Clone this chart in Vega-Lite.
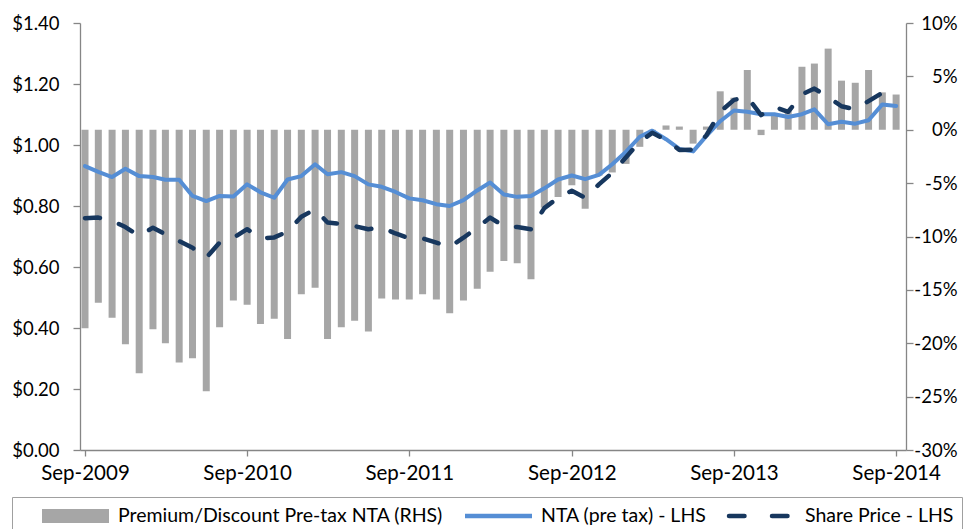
{
  "$schema": "https://vega.github.io/schema/vega-lite/v6.json",
  "width": 826,
  "height": 427,
  "autosize": {"type": "none"},
  "padding": {"left": 80, "top": 23, "right": 67, "bottom": 79},
  "background": "white",
  "config": {
    "view": {"stroke": null},
    "font": "Lato",
    "axis": {"labelFont": "Lato", "labelFontSize": 18.5, "labelColor": "#000000", "domainColor": "#868686", "tickColor": "#868686", "domainWidth": 1.3, "tickWidth": 1.3, "grid": false, "title": null}
  },
  "data": {
    "values": [
      {"date": "2009-09-01", "premium": -0.186, "nta": 0.931, "price": 0.760},
      {"date": "2009-10-01", "premium": -0.162, "nta": 0.912, "price": 0.762},
      {"date": "2009-11-01", "premium": -0.176, "nta": 0.895, "price": 0.751},
      {"date": "2009-12-01", "premium": -0.201, "nta": 0.922, "price": 0.731},
      {"date": "2010-01-01", "premium": -0.228, "nta": 0.898, "price": 0.702},
      {"date": "2010-02-01", "premium": -0.187, "nta": 0.895, "price": 0.729},
      {"date": "2010-03-01", "premium": -0.200, "nta": 0.886, "price": 0.707},
      {"date": "2010-04-01", "premium": -0.218, "nta": 0.886, "price": 0.685},
      {"date": "2010-05-01", "premium": -0.214, "nta": 0.833, "price": 0.663},
      {"date": "2010-06-01", "premium": -0.245, "nta": 0.816, "price": 0.630},
      {"date": "2010-07-01", "premium": -0.185, "nta": 0.833, "price": 0.680},
      {"date": "2010-08-01", "premium": -0.160, "nta": 0.831, "price": 0.696},
      {"date": "2010-09-01", "premium": -0.164, "nta": 0.871, "price": 0.724},
      {"date": "2010-10-01", "premium": -0.182, "nta": 0.845, "price": 0.694},
      {"date": "2010-11-01", "premium": -0.177, "nta": 0.827, "price": 0.697},
      {"date": "2010-12-01", "premium": -0.196, "nta": 0.887, "price": 0.716},
      {"date": "2011-01-01", "premium": -0.154, "nta": 0.898, "price": 0.765},
      {"date": "2011-02-01", "premium": -0.148, "nta": 0.937, "price": 0.789},
      {"date": "2011-03-01", "premium": -0.196, "nta": 0.904, "price": 0.746},
      {"date": "2011-04-01", "premium": -0.185, "nta": 0.911, "price": 0.741},
      {"date": "2011-05-01", "premium": -0.179, "nta": 0.898, "price": 0.734},
      {"date": "2011-06-01", "premium": -0.189, "nta": 0.871, "price": 0.724},
      {"date": "2011-07-01", "premium": -0.158, "nta": 0.863, "price": 0.729},
      {"date": "2011-08-01", "premium": -0.159, "nta": 0.846, "price": 0.710},
      {"date": "2011-09-01", "premium": -0.159, "nta": 0.825, "price": 0.694},
      {"date": "2011-10-01", "premium": -0.154, "nta": 0.819, "price": 0.694},
      {"date": "2011-11-01", "premium": -0.159, "nta": 0.806, "price": 0.680},
      {"date": "2011-12-01", "premium": -0.172, "nta": 0.800, "price": 0.666},
      {"date": "2012-01-01", "premium": -0.160, "nta": 0.819, "price": 0.696},
      {"date": "2012-02-01", "premium": -0.149, "nta": 0.851, "price": 0.729},
      {"date": "2012-03-01", "premium": -0.133, "nta": 0.877, "price": 0.762},
      {"date": "2012-04-01", "premium": -0.123, "nta": 0.838, "price": 0.734},
      {"date": "2012-05-01", "premium": -0.125, "nta": 0.830, "price": 0.731},
      {"date": "2012-06-01", "premium": -0.140, "nta": 0.833, "price": 0.724},
      {"date": "2012-07-01", "premium": -0.073, "nta": 0.858, "price": 0.793},
      {"date": "2012-08-01", "premium": -0.063, "nta": 0.887, "price": 0.827},
      {"date": "2012-09-01", "premium": -0.052, "nta": 0.900, "price": 0.850},
      {"date": "2012-10-01", "premium": -0.074, "nta": 0.888, "price": 0.827},
      {"date": "2012-11-01", "premium": -0.043, "nta": 0.902, "price": 0.871},
      {"date": "2012-12-01", "premium": -0.040, "nta": 0.937, "price": 0.909},
      {"date": "2013-01-01", "premium": -0.032, "nta": 0.978, "price": 0.960},
      {"date": "2013-02-01", "premium": -0.016, "nta": 1.027, "price": 1.011},
      {"date": "2013-03-01", "premium": -0.005, "nta": 1.047, "price": 1.040},
      {"date": "2013-04-01", "premium": 0.004, "nta": 1.019, "price": 1.017},
      {"date": "2013-05-01", "premium": 0.003, "nta": 0.987, "price": 0.984},
      {"date": "2013-06-01", "premium": -0.013, "nta": 0.979, "price": 0.985},
      {"date": "2013-07-01", "premium": 0.003, "nta": 1.030, "price": 1.032},
      {"date": "2013-08-01", "premium": 0.036, "nta": 1.078, "price": 1.109},
      {"date": "2013-09-01", "premium": 0.030, "nta": 1.113, "price": 1.148},
      {"date": "2013-10-01", "premium": 0.056, "nta": 1.109, "price": 1.157},
      {"date": "2013-11-01", "premium": -0.005, "nta": 1.101, "price": 1.098},
      {"date": "2013-12-01", "premium": 0.015, "nta": 1.101, "price": 1.125},
      {"date": "2014-01-01", "premium": 0.018, "nta": 1.092, "price": 1.109},
      {"date": "2014-02-01", "premium": 0.059, "nta": 1.101, "price": 1.166},
      {"date": "2014-03-01", "premium": 0.062, "nta": 1.117, "price": 1.185},
      {"date": "2014-04-01", "premium": 0.076, "nta": 1.068, "price": 1.157},
      {"date": "2014-05-01", "premium": 0.046, "nta": 1.076, "price": 1.127},
      {"date": "2014-06-01", "premium": 0.044, "nta": 1.070, "price": 1.117},
      {"date": "2014-07-01", "premium": 0.056, "nta": 1.081, "price": 1.144},
      {"date": "2014-08-01", "premium": 0.035, "nta": 1.133, "price": 1.171},
      {"date": "2014-09-01", "premium": 0.033, "nta": 1.128, "price": 1.166}
    ]
  },
  "encoding": {
    "x": {
      "field": "date",
      "type": "temporal",
      "scale": {"type": "utc", "domain": [{"year": 2009, "month": "sep", "date": 1, "utc": true}, {"year": 2014, "month": "sep", "date": 12, "utc": true}]},
      "axis": {
        "values": [
          {"year": 2009, "month": "sep", "date": 1, "utc": true},
          {"year": 2010, "month": "sep", "date": 1, "utc": true},
          {"year": 2011, "month": "sep", "date": 1, "utc": true},
          {"year": 2012, "month": "sep", "date": 1, "utc": true},
          {"year": 2013, "month": "sep", "date": 1, "utc": true},
          {"year": 2014, "month": "sep", "date": 1, "utc": true}
        ],
        "format": "%b-%Y",
        "tickSize": 6,
        "labelPadding": 7,
        "labelFontSize": 20.5,
        "labelFlush": false,
        "labelOverlap": false
      }
    }
  },
  "layer": [
    {
      "mark": {"type": "bar", "size": 7, "clip": true},
      "encoding": {
        "y": {
          "field": "premium",
          "type": "quantitative",
          "scale": {"domain": [-0.3, 0.1], "nice": false, "zero": true},
          "axis": {
            "orient": "right",
            "values": [-0.3, -0.25, -0.2, -0.15, -0.1, -0.05, 0, 0.05, 0.1],
            "labelExpr": "round(datum.value * 100) + '%'",
            "tickSize": 7,
            "labelAlign": "right",
            "labelPadding": 44
          }
        },
        "color": {
          "datum": "Premium/Discount Pre-tax NTA (RHS)",
          "type": "nominal",
          "scale": {
            "domain": ["Premium/Discount Pre-tax NTA (RHS)", "NTA (pre tax) - LHS", "Share Price - LHS"],
            "range": ["#A6A6A6", "#558ED5", "#17375E"]
          },
          "legend": {
            "orient": "none",
            "legendX": -68,
            "legendY": 474,
            "direction": "horizontal",
            "title": null,
            "symbolType": "stroke",
            "symbolSize": 4489,
            "clipHeight": 22,
            "labelFont": "Lato",
            "labelFontSize": 19.5,
            "labelColor": "#000000",
            "labelOffset": 0,
            "symbolOffset": 0,
            "columnPadding": 0,
            "padding": 8,
            "strokeColor": "#A0A0A0",
            "labelLimit": 500,
            "encode": {
              "symbols": {
                "update": {
                  "x": {"value": 55.5},
                  "stroke": {"scale": "color", "field": "value"},
                  "fill": {"value": "transparent"},
                  "strokeWidth": {"signal": "datum.value == 'Premium/Discount Pre-tax NTA (RHS)' ? 14 : 4.5"},
                  "strokeDash": {"signal": "datum.value == 'Share Price - LHS' ? [15.5, 27.5] : [1, 0]"},
                  "strokeCap": {"signal": "datum.value == 'Share Price - LHS' ? 'round' : 'butt'"}
                }
              },
              "labels": {
                "update": {
                  "x": {"value": 98}
                }
              }
            }
          }
        }
      }
    },
    {
      "layer": [
        {
          "mark": {"type": "line", "strokeWidth": 4, "strokeJoin": "round", "strokeCap": "round"},
          "encoding": {
            "y": {
              "field": "nta",
              "type": "quantitative",
              "scale": {"domain": [0, 1.4], "nice": false},
              "axis": {
                "orient": "left",
                "values": [0, 0.2, 0.4, 0.6, 0.8, 1.0, 1.2, 1.4],
                "labelExpr": "'$' + format(datum.value, '.2f')",
                "tickSize": 7,
                "labelPadding": 14
              }
            },
            "color": {"datum": "NTA (pre tax) - LHS", "type": "nominal"}
          }
        },
        {
          "mark": {"type": "line", "strokeWidth": 4.5, "strokeDash": [15, 20], "strokeCap": "round", "strokeJoin": "round"},
          "encoding": {
            "y": {"field": "price", "type": "quantitative", "scale": {"domain": [0, 1.4], "nice": false}},
            "color": {"datum": "Share Price - LHS", "type": "nominal"}
          }
        }
      ]
    }
  ],
  "resolve": {"scale": {"y": "independent"}}
}
